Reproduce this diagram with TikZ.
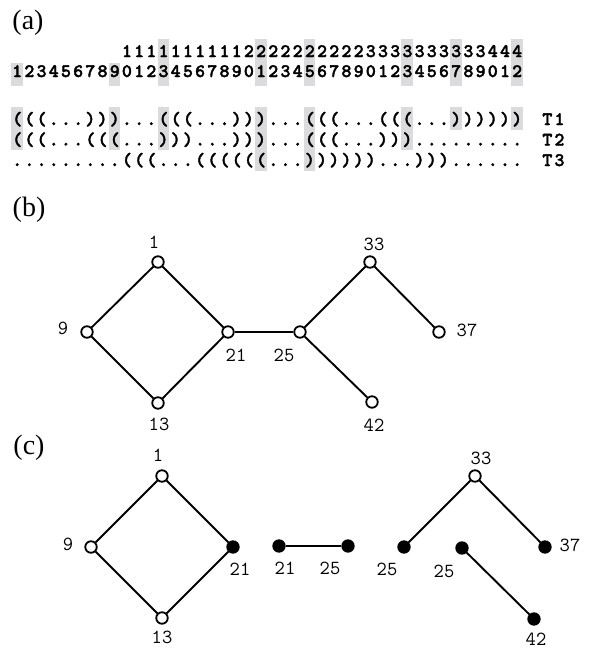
\documentclass[tikz,border=0pt]{standalone}
\usepackage{fontspec}
\setmainfont{Liberation Serif}
\newfontfamily\boldtt{lmmonolt10-bold.otf}[FakeBold=2]
\makeatletter
\newcommand\seqrow[1]{\seqrowA#1\relax}
\def\seqrowA#1{\ifx#1\relax\else\makebox[12.195pt][c]{#1}\expandafter\seqrowA\fi}
\makeatother
\definecolor{hlgray}{RGB}{219,219,221}
\tikzset{
  panel/.style={font=\fontsize{28}{30}\selectfont, inner sep=0pt},
  seq/.style={font=\boldtt\fontsize{19}{20}\selectfont, inner sep=0pt, anchor=base west},
  vtx/.style={circle, draw, line width=1.8pt, fill=white, minimum size=11.5pt, inner sep=0pt},
  fvtx/.style={vtx, fill=black},
  edge/.style={line width=1.9pt},
  lbl/.style={font=\ttfamily\fontsize{20}{21}\selectfont, inner sep=0pt},
}
\begin{document}
\begin{tikzpicture}[x=1pt,y=-1pt]
\useasboundingbox (0,0) rectangle (593,649);
% ---------- (a) ----------
\node[panel] (pa) at (28,23) {(a)};
% highlight strips
\def\cx#1{17+(#1-1)*12.195}
\foreach \c in {13,21,25,33,37,42}
  \fill[hlgray] ({\cx{\c}-5.8},39) rectangle ({\cx{\c}+5.8},63);
\foreach \c in {1,9,13,21,25,33,37,42}
  \fill[hlgray] ({\cx{\c}-5.8},62.5) rectangle ({\cx{\c}+5.8},86);
\foreach \c in {1,9,13,21,25,33,37,42}
  \fill[hlgray] ({\cx{\c}-5.8},107) rectangle ({\cx{\c}+5.8},129.5);
\foreach \c in {1,9,13,21,25,33}
  \fill[hlgray] ({\cx{\c}-5.8},129) rectangle ({\cx{\c}+5.8},150);
\foreach \c in {21,25}
  \fill[hlgray] ({\cx{\c}-5.8},149.5) rectangle ({\cx{\c}+5.8},171);
% sequence rows
\node[seq] (tens) at (120.66,57) {\seqrow{111111111122222222223333333333444}};
\node[seq] (ones) at (10.9,77) {\seqrow{123456789012345678901234567890123456789012}};
\node[seq] (s1) at (10.9,125) {\seqrow{(((...)))...(((...)))...(((...(((...))))))}};
\node[seq] (s2) at (10.9,145.5) {\seqrow{(((...(((...)))...)))...(((...))).........}};
\node[seq] (s3) at (10.9,166) {\seqrow{.........(((...((((((...))))))...)))......}};
\node[seq] (t1) at (541,125) {\seqrow{T1}};
\node[seq] (t2) at (541,145.5) {\seqrow{T2}};
\node[seq] (t3) at (541,166) {\seqrow{T3}};
% ---------- (b) ----------
\node[panel] (pb) at (29,210) {(b)};
\node[vtx] (b1) at (158,262) {};
\node[vtx] (b9) at (87,332) {};
\node[vtx] (b21) at (228,332) {};
\node[vtx] (b13) at (158,403) {};
\node[vtx] (b25) at (300,332) {};
\node[vtx] (b33) at (370,262) {};
\node[vtx] (b37) at (439,332) {};
\node[vtx] (b42) at (372,402) {};
\draw[edge] (b1) -- (b9);
\draw[edge] (b1) -- (b21);
\draw[edge] (b9) -- (b13);
\draw[edge] (b13) -- (b21);
\draw[edge] (b21) -- (b25);
\draw[edge] (b25) -- (b33);
\draw[edge] (b33) -- (b37);
\draw[edge] (b25) -- (b42);
\node[lbl] (lb1) at (154,242) {1};
\node[lbl] (lb9) at (63,328) {9};
\node[lbl] (lb21) at (236,355) {21};
\node[lbl] (lb25) at (284,355) {25};
\node[lbl] (lb13) at (159,424) {13};
\node[lbl] (lb33) at (374,244) {33};
\node[lbl] (lb37) at (467,330) {37};
\node[lbl] (lb42) at (374,425) {42};
% ---------- (c) ----------
\node[panel] (pc) at (29,448) {(c)};
\node[vtx] (c1) at (162,476) {};
\node[vtx] (c9) at (91,547) {};
\node[fvtx] (c21) at (233,547) {};
\node[vtx] (c13) at (162,618) {};
\draw[edge] (c1) -- (c9);
\draw[edge] (c1) -- (c21);
\draw[edge] (c9) -- (c13);
\draw[edge] (c13) -- (c21);
\node[fvtx] (d21) at (279,546) {};
\node[fvtx] (d25) at (348,546) {};
\draw[edge] (d21) -- (d25);
\node[fvtx] (e25) at (404,547) {};
\node[vtx] (e33) at (475,476) {};
\node[fvtx] (e37) at (545,547) {};
\draw[edge] (e25) -- (e33);
\draw[edge] (e33) -- (e37);
\node[fvtx] (f25) at (462,548) {};
\node[fvtx] (f42) at (534,619) {};
\draw[edge] (f25) -- (f42);
\node[lbl] (lc1) at (158,455) {1};
\node[lbl] (lc9) at (68,544) {9};
\node[lbl] (lc21) at (240,569) {21};
\node[lbl] (lc13) at (162,637) {13};
\node[lbl] (ld21) at (285,568) {21};
\node[lbl] (ld25) at (330,568) {25};
\node[lbl] (le25) at (387,569) {25};
\node[lbl] (le33) at (481,458) {33};
\node[lbl] (le37) at (570,545) {37};
\node[lbl] (lf25) at (444,571) {25};
\node[lbl] (lf42) at (536,639) {42};
\end{tikzpicture}
\end{document}
